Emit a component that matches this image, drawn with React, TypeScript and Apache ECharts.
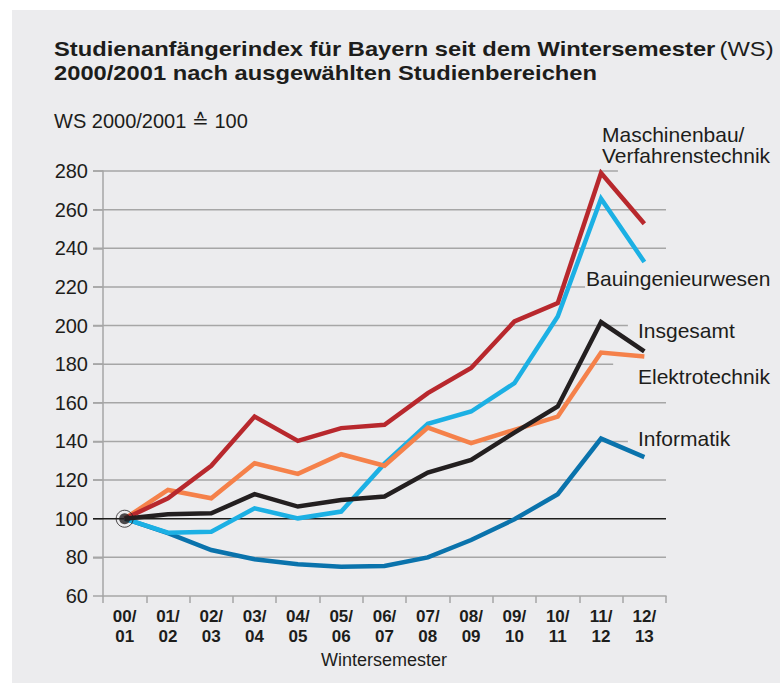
import React, { useEffect, useRef } from "react";
import * as echarts from "echarts";

const categories = ["00/\n01", "01/\n02", "02/\n03", "03/\n04", "04/\n05", "05/\n06", "06/\n07", "07/\n08", "08/\n09", "09/\n10", "10/\n11", "11/\n12", "12/\n13"];
const maschinenbau = [100, 110.6, 127.4, 152.9, 140.3, 146.9, 148.6, 165.0, 178.0, 202.1, 211.6, 279.0, 252.7];
const bauingenieurwesen = [100, 92.8, 93.3, 105.4, 100.2, 103.7, 128.5, 149.1, 155.5, 170.2, 204.7, 265.7, 232.9];
const elektrotechnik = [100, 114.9, 110.6, 128.7, 123.2, 133.4, 127.4, 147.2, 139.1, 146.0, 152.9, 186.0, 184.0];
const insgesamt = [100, 102.3, 102.8, 112.7, 106.3, 109.7, 111.5, 123.9, 130.5, 144.6, 158.1, 201.8, 186.6];
const informatik = [100, 92.5, 83.8, 79.0, 76.4, 75.2, 75.5, 80.0, 89.0, 99.7, 112.7, 141.5, 131.9];

// horizontal reference lines: level and where each line ends (in category-band units)
const gridLevels = [280, 260, 240, 220, 200, 180, 160, 140, 120, 100, 80];
const gridEnds = [11.89, 13, 13, 11.13, 12.12, 11.78, 13, 12.12, 13, 13, 13];

const FONT = "'Liberation Sans', Arial, Helvetica, sans-serif";
const TXT = "#1d1d1b";
const GRAY = "#a6a6a6";

export default function App() {
  const ref = useRef<HTMLDivElement>(null);
  useEffect(() => {
    if (!ref.current) return;
    const chart = echarts.init(ref.current, undefined, { renderer: "svg" });
    const line = (name: string, data: number[], color: string, z: number) => ({
      type: "line",
      name,
      data,
      xAxisIndex: 0,
      yAxisIndex: 0,
      showSymbol: false,
      symbol: "none",
      z,
      lineStyle: { color, width: 4.5, join: "miter", cap: "butt" },
    });
    chart.setOption({
      animation: false,
      textStyle: { fontFamily: FONT },
      grid: { left: 103, right: 114, top: 171, bottom: 87, containLabel: false },
      xAxis: [
        {
          type: "category",
          data: categories,
          boundaryGap: true,
          axisLine: { show: true, lineStyle: { color: GRAY, width: 1.5 } },
          axisTick: { show: true, length: 7, lineStyle: { color: GRAY, width: 1.5 } },
          axisLabel: {
            interval: 0,
            margin: 10,
            fontFamily: FONT,
            fontWeight: "bold",
            fontSize: 17,
            lineHeight: 20,
            color: TXT,
          },
          splitLine: { show: false },
        },
        { type: "value", min: 0, max: 13, show: false },
      ],
      yAxis: {
        type: "value",
        min: 60,
        max: 280,
        interval: 20,
        axisLine: { show: true, lineStyle: { color: GRAY, width: 1.5 } },
        axisTick: { show: true, length: 10, lineStyle: { color: GRAY, width: 1.5 } },
        axisLabel: { margin: 15, fontFamily: FONT, fontSize: 20, color: TXT },
        splitLine: { show: false },
      },
      series: [
        {
          type: "custom",
          xAxisIndex: 1,
          yAxisIndex: 0,
          z: 1,
          silent: true,
          encode: { x: 1, y: 0 },
          data: gridLevels.map((v, i) => [v, gridEnds[i]]),
          renderItem: (params: any, api: any) => {
            const y = api.value(0);
            const xe = api.value(1);
            const p0 = api.coord([0, y]);
            const p1 = api.coord([xe, y]);
            const isBase = y === 100;
            return {
              type: "line",
              shape: { x1: p0[0] - 10, y1: p0[1], x2: p1[0], y2: p1[1] },
              style: { stroke: isBase ? "#1d1d1b" : GRAY, lineWidth: 1.5 },
            };
          },
        },
        line("Informatik", informatik, "#0a73ac", 2),
        line("Bauingenieurwesen", bauingenieurwesen, "#1cb0e4", 3),
        line("Elektrotechnik", elektrotechnik, "#f5814a", 4),
        line("Maschinenbau/Verfahrenstechnik", maschinenbau, "#b8282d", 5),
        line("Insgesamt", insgesamt, "#231f20", 6),
        {
          type: "scatter",
          xAxisIndex: 0,
          yAxisIndex: 0,
          z: 7,
          silent: true,
          symbol: "circle",
          symbolSize: 11,
          itemStyle: { color: "#231f20" },
          data: [[0, insgesamt[0]]],
        },
        {
          type: "scatter",
          xAxisIndex: 0,
          yAxisIndex: 0,
          z: 8,
          silent: true,
          symbol: "circle",
          symbolSize: 17,
          itemStyle: { color: "rgba(0,0,0,0)", borderColor: "#231f20", borderWidth: 1 },
          data: [[0, insgesamt[0]]],
        },
      ],
      graphic: [
        {
          type: "text",
          x: 54,
          y: 37,
          scaleX: 1.13,
          style: {
            text: "{b|Studienanfängerindex für Bayern seit dem Wintersemester} {r|(WS)}\n{b|2000/2001 nach ausgewählten Studienbereichen}",
            textVerticalAlign: "top",
            rich: {
              b: { fontFamily: FONT, fontWeight: "bold", fontSize: 21, lineHeight: 24, fill: TXT },
              r: { fontFamily: FONT, fontWeight: "normal", fontSize: 21, lineHeight: 24, fill: TXT },
            },
          },
        },
        {
          type: "text",
          x: 54,
          y: 121,
          style: { text: "WS 2000/2001 ≙ 100", font: `20px ${FONT}`, fill: TXT, textVerticalAlign: "middle" },
        },
        {
          type: "text",
          x: 602,
          y: 124,
          style: {
            text: "Maschinenbau/\nVerfahrenstechnik",
            font: `21px ${FONT}`,
            lineHeight: 21,
            fill: TXT,
            textVerticalAlign: "top",
          },
        },
        {
          type: "text",
          x: 586,
          y: 278,
          style: { text: "Bauingenieurwesen", font: `21px ${FONT}`, fill: TXT, textVerticalAlign: "middle" },
        },
        {
          type: "text",
          x: 638,
          y: 330,
          style: { text: "Insgesamt", font: `21px ${FONT}`, fill: TXT, textVerticalAlign: "middle" },
        },
        {
          type: "text",
          x: 638,
          y: 376,
          style: { text: "Elektrotechnik", font: `21px ${FONT}`, fill: TXT, textVerticalAlign: "middle" },
        },
        {
          type: "text",
          x: 638,
          y: 438,
          style: { text: "Informatik", font: `21px ${FONT}`, fill: TXT, textVerticalAlign: "middle" },
        },
        {
          type: "text",
          x: 384,
          y: 660,
          style: { text: "Wintersemester", font: `18px ${FONT}`, fill: TXT, textAlign: "center", textVerticalAlign: "middle" },
        },
      ],
    });
    return () => chart.dispose();
  }, []);

  return (
    <div style={{ position: "fixed", left: 0, top: 0, width: 780, height: 683, background: "#ffffff", overflow: "hidden" }}>
      <div style={{ position: "absolute", left: 12, top: 10, width: 768, height: 673, background: "#ececee" }} />
      <div ref={ref} style={{ position: "absolute", left: 0, top: 0, width: 780, height: 683 }} />
    </div>
  );
}
